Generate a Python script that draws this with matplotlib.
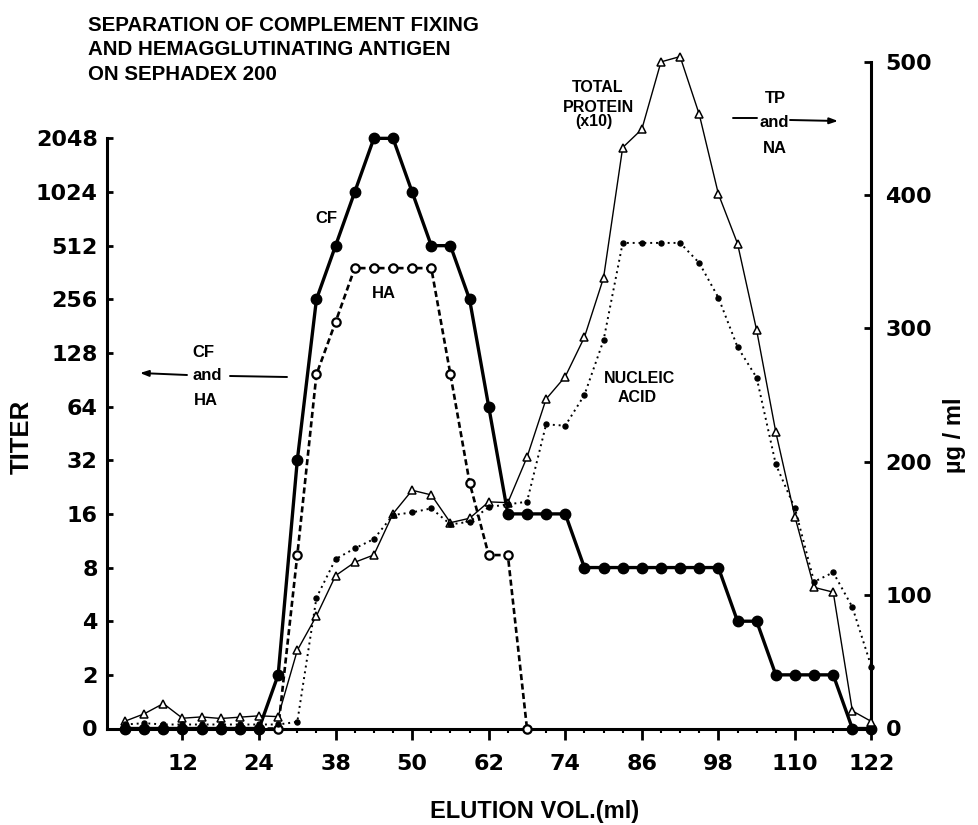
import numpy as np
import matplotlib
matplotlib.use("Agg")
import matplotlib.pyplot as plt

# ---- data -------------------------------------------------------------
# fractions collected every 3 ml
elution_ml = np.arange(3, 121, 3)

# complement-fixing titer
cf_titer = [0, 0, 0, 0, 0, 0, 0, 0, 2, 32, 256, 512, 1024, 2048, 2048, 1024,
            512, 512, 256, 64, 16, 16, 16, 16, 8, 8, 8, 8, 8, 8, 8, 8,
            4, 4, 2, 2, 2, 2, 0, 0]

# hemagglutinating titer
ha_titer = [0, 0, 0, 0, 0, 0, 0, 0, 0, 9.4, 97, 191, 383, 383, 383, 383,
            383, 97, 24, 9.4, 9.4, 0] + [np.nan] * 18

# total protein (x10), ug/ml
total_protein = [5.5, 11, 18.7, 7.7, 8.7, 7.5, 8.5, 9.5, 8.9, 58.6, 84.4,
                 114.6, 124.6, 130.1, 161, 178.6, 175.1, 154.3, 157.6, 169.9,
                 169.3, 203.3, 247, 263.8, 293.3, 337.8, 435.5, 449.2, 499.7,
                 503.7, 460.4, 400.7, 363.5, 298.5, 222.2, 158.7, 105.8,
                 102.2, 13.2, 5.2]

# nucleic acid, ug/ml
nucleic_acid = [3, 4, 3, 3, 3, 3, 3, 3, 3, 5, 98, 127, 135, 142, 160, 162,
                165, 153, 155, 166, 168, 170, 228, 227, 250, 291, 364, 364,
                364, 364, 349, 323, 286, 263, 198, 165, 110, 117, 91, 46]

titer_ticks = [0, 2, 4, 8, 16, 32, 64, 128, 256, 512, 1024, 2048]
ug_ticks = [0, 100, 200, 300, 400, 500]
x_tick_pos = np.arange(12, 121, 12)
x_tick_labels = ["12", "24", "38", "50", "62", "74", "86", "98", "110", "122"]

# ---- figure -----------------------------------------------------------
W, H = 979, 825
fig = plt.figure(figsize=(W / 100, H / 100), dpi=100)
ax = fig.add_axes([107.5 / W, 96.5 / H, 764 / W, 667 / H])

LETTER = "Liberation Sans"
DIGITS = "DejaVu Sans"


def to_level(t):
    t = np.asarray(t, dtype=float)
    return np.where(t < 2, t / 2.0, np.log2(np.clip(t, 2, None)))


def from_level(u):
    u = np.asarray(u, dtype=float)
    return np.where(u < 1, 2.0 * u, 2.0 ** np.clip(u, 1, None))


# titer axis: 0, then doubling steps, evenly spaced
ax.set_yscale("function", functions=(to_level, from_level))
ax.set_ylim(0, float(from_level(667 / 53.65)))
ax.set_xlim(0.25, 120.0)

ax2 = ax.twinx()
ax2.set_ylim(0, 500)

# series
ax.plot(elution_ml, ha_titer, color="k", lw=1.9, ls=(0, (2.3, 1.3)),
        marker="o", ms=6, mfc="white", mec="k", mew=1.6,
        clip_on=False, zorder=3)
ax.plot(elution_ml, cf_titer, color="k", lw=2.4, ls="-",
        marker="o", ms=7.5, mfc="k", mec="k",
        clip_on=False, zorder=4)
ax2.plot(elution_ml, total_protein, color="k", lw=1.0, ls="-",
         marker="^", ms=6, mfc="white", mec="k", mew=1.1,
         clip_on=False, zorder=3)
ax2.plot(elution_ml, nucleic_acid, color="k", lw=1.4, ls=(0, (1, 2)),
         marker="o", ms=3.6, mfc="k", mec="k",
         clip_on=False, zorder=3)

# axes, ticks and spines
for side in ("top", "right"):
    ax.spines[side].set_visible(False)
for side in ("left", "top", "bottom"):
    ax2.spines[side].set_visible(False)
ax.spines["left"].set_bounds(0, 2048)
ax2.spines["right"].set_bounds(0, 500)
for sp in (ax.spines["left"], ax.spines["bottom"], ax2.spines["right"]):
    sp.set_linewidth(2.2)

ax.set_yticks(titer_ticks)
ax.set_yticklabels([str(v) for v in titer_ticks])
ax.yaxis.set_minor_locator(matplotlib.ticker.NullLocator())
ax.set_xticks(x_tick_pos)
ax.set_xticklabels(x_tick_labels)
ax.set_xticks(elution_ml, minor=True)
ax2.set_yticks(ug_ticks)
ax2.set_yticklabels([str(v) for v in ug_ticks])

ax.tick_params(axis="y", direction="in", length=4, width=2, pad=7,
               labelsize=16)
ax.tick_params(axis="x", which="major", direction="out", length=8, width=2,
               pad=10, labelsize=16)
ax.tick_params(axis="x", which="minor", direction="out", length=3, width=1.5)
ax2.tick_params(axis="y", direction="in", length=5, width=2, pad=10,
                labelsize=16)
for lab in ax.get_xticklabels() + ax.get_yticklabels() + ax2.get_yticklabels():
    lab.set_fontweight("bold")
    lab.set_family(DIGITS)


# ---- lettering --------------------------------------------------------
def put(x, y, s, size=12, ha="center", va="baseline", rot=0):
    fig.text(x / W, 1 - y / H, s, ha=ha, va=va, fontsize=size,
             fontweight="bold", family=LETTER, rotation=rot)


put(88, 31, "SEPARATION OF COMPLEMENT FIXING", size=14.8, ha="left")
put(88, 55, "AND HEMAGGLUTINATING ANTIGEN", size=14.8, ha="left")
put(88, 80, "ON SEPHADEX 200", size=14.8, ha="left")

put(22, 437, "TITER", size=18.5, va="center", rot=90)
put(955, 435, "\u00b5g / ml", size=17, va="center", rot=90)
put(535, 818, "ELUTION VOL.(ml)", size=17)

put(326, 223, "CF", size=12)
put(384, 298, "HA", size=12)

put(203, 357, "CF", size=12)
put(207, 380, "and", size=12)
put(206, 405, "HA", size=12)

put(598, 92, "TOTAL", size=11.5)
put(599, 112, "PROTEIN", size=11.5)
put(594, 126, "(x10)", size=11.5)

put(775, 103, "TP", size=12)
put(774, 127, "and", size=12)
put(775, 153, "NA", size=12)

put(640, 383, "NUCLEIC", size=11.5)
put(637, 402, "ACID", size=11.5)


def pointer(x0, y0, x1, y1, head=True):
    ax.annotate("", xy=(x1, H - y1), xytext=(x0, H - y0),
                xycoords="figure pixels", textcoords="figure pixels",
                arrowprops=dict(arrowstyle="-|>,head_length=0.5,head_width=0.18"
                                if head else "-",
                                color="k", lw=1.4, shrinkA=0, shrinkB=0))


pointer(187, 375, 140, 373)
pointer(230, 376, 287, 377, head=False)
pointer(757, 118, 733, 118, head=False)
pointer(790, 120, 838, 121)

fig.savefig("out.png", dpi=100)
